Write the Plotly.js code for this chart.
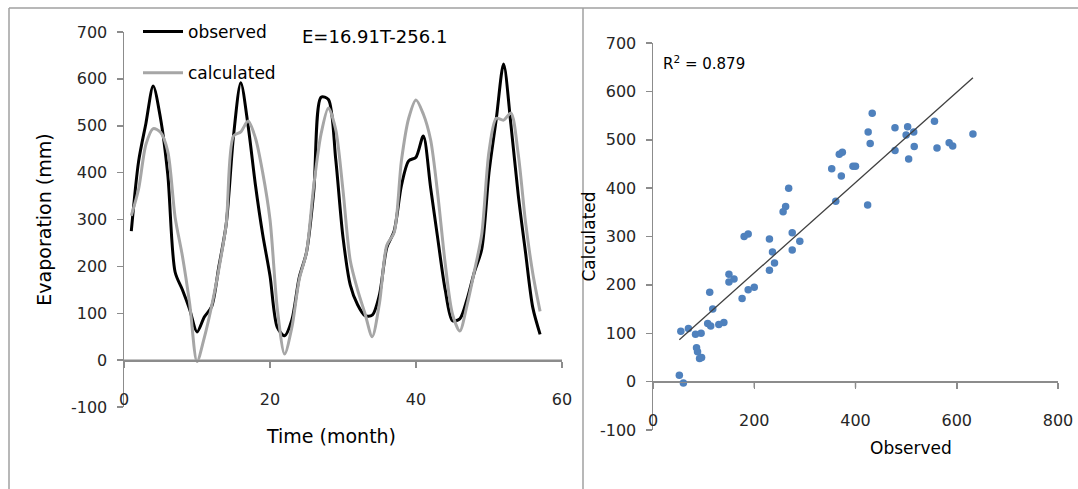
<!DOCTYPE html>
<html>
<head>
<meta charset="utf-8">
<script src="https://cdn.plot.ly/plotly-3.0.1.min.js"></script>
<style>
html,body{margin:0;padding:0;background:#ffffff;}
#chart{width:1078px;height:489px;}
</style>
</head>
<body>
<div id="chart"></div>
<script>
// ---- data ----
const months = [1,2,3,4,5,6,7,8,9,10,11,12,13,14,15,16,17,18,19,20,21,22,23,24,25,26,27,28,29,30,
  31,32,33,34,35,36,37,38,39,40,41,42,43,44,45,46,47,48,49,50,51,52,53,54,55,56,57];
const observed = [275,424,505,585,516,395,188,150,108,60,92,114,200,290,478,592,500,374,268,180,
  70,52,86,176,230,361,561,556,429,262,160,118,95,96,140,240,275,372,425,433,
  478,368,257,150,84,88,130,188,236,400,515,632,503,353,230,112,55];
const calculated = [308,365,460,494,486,445,305,222,120,-3,48,115,195,290,478,487,510,474,400,300,
  110,13,70,172,230,373,483,538,492,362,212,150,100,50,122,245,272,425,516,555,
  525,470,351,206,98,62,118,190,268,445,516,512,527,440,295,185,104];

const leftXTicks = [0,20,40,60];
const leftYTicks = [-100,0,100,200,300,400,500,600,700];
const rightXTicks = [0,200,400,600,800];
const rightYTicks = [-100,0,100,200,300,400,500,600,700];
const leftXRange = [0,60];
const leftYRange = [-100,700];
const rightXRange = [0,800];
const rightYRange = [-100,700];

const equationText = 'E=16.91T-256.1';
const r2Text = 'R<sup>2</sup> = 0.879';

// ---- linear trendline through the scatter (least squares) ----
const n = observed.length;
let sx=0, sy=0, sxx=0, sxy=0;
for (let i=0;i<n;i++){ sx+=observed[i]; sy+=calculated[i]; sxx+=observed[i]*observed[i]; sxy+=observed[i]*calculated[i]; }
const slope = (n*sxy - sx*sy)/(n*sxx - sx*sx);
const intercept = (sy - slope*sx)/n;
const trendX = [Math.min(...observed), Math.max(...observed)];
const trendY = trendX.map(v => slope*v + intercept);

// ---- layout geometry ----
const W = 1078, H = 489;
const leftXDom = [124/W, 562/W];
const leftYDom = [(H-407)/H, (H-32)/H];
const rightXDom = [653/W, 1058/W];
const rightYDom = [(H-430)/H, (H-43)/H];
function zeroPos(dom, range){ return dom[0] + (dom[1]-dom[0])*(0-range[0])/(range[1]-range[0]); }
const lbl = v => String(v); // plain hyphen-minus like the reference
const leftZero = zeroPos(leftYDom, leftYRange);
const rightZero = zeroPos(rightYDom, rightYRange);

const FONT = 'DejaVu Sans, Liberation Sans, sans-serif';
const TICKCOL = '#262626';
const AXCOL = '#8c8c8c';
const TICKLEN = 6;

const traces = [
  {x: months, y: observed, type:'scatter', mode:'lines', name:'observed',
   line:{color:'#000000', width:3, shape:'spline', smoothing:0.8},
   xaxis:'x', yaxis:'y', legendgroup:'g1'},
  {x: months, y: calculated, type:'scatter', mode:'lines', name:'calculated',
   line:{color:'#a6a6a6', width:3, shape:'spline', smoothing:0.8},
   xaxis:'x', yaxis:'y', legendgroup:'g2'},
  {x: observed, y: calculated, type:'scatter', mode:'markers', name:'scatter',
   marker:{color:'#4f81bd', size:7.5}, xaxis:'x2', yaxis:'y2', showlegend:false},
  {x: trendX, y: trendY, type:'scatter', mode:'lines', name:'trend',
   line:{color:'#404040', width:1.3}, xaxis:'x2', yaxis:'y2', showlegend:false}
];

const commonAx = {
  showgrid:false, zeroline:false, showline:true, linecolor:AXCOL, linewidth:1.5,
  ticks:'outside', ticklen:TICKLEN, tickwidth:1.5, tickcolor:AXCOL,
  tickfont:{family:FONT, size:16, color:TICKCOL}, fixedrange:true
};

// the horizontal axes cross the value axes at zero, with tick marks below
const axisShapes = [];
function crossAxis(xref, dom, zero, ticks){
  axisShapes.push({type:'line', xref:'paper', yref:'paper', x0:dom[0], x1:dom[1], y0:zero, y1:zero,
    line:{color:AXCOL, width:1.5}, layer:'below'});
  ticks.forEach(v => axisShapes.push({type:'line', xref:xref, yref:'paper', x0:v, x1:v,
    y0:zero, y1:zero - TICKLEN/H, line:{color:AXCOL, width:1.5}, layer:'below'}));
}
crossAxis('x', leftXDom, leftZero, leftXTicks);
crossAxis('x2', rightXDom, rightZero, rightXTicks);

const borderShapes = [
  {type:'line', xref:'paper', yref:'paper', x0:9/W, x1:1, y0:(H-8)/H, y1:(H-8)/H, line:{color:'#a0a0a0', width:1.5}},
  {type:'line', xref:'paper', yref:'paper', x0:9/W, x1:9/W, y0:0, y1:(H-8)/H, line:{color:'#a0a0a0', width:1.5}},
  {type:'line', xref:'paper', yref:'paper', x0:583/W, x1:583/W, y0:0, y1:(H-8)/H, line:{color:'#a0a0a0', width:1.5}}
];

const layout = {
  width:W, height:H, margin:{l:0,r:0,t:0,b:0},
  paper_bgcolor:'#ffffff', plot_bgcolor:'rgba(0,0,0,0)',
  font:{family:FONT, color:'#000000'},
  showlegend:true,
  legend:{x:138/W, y:(H-14)/H, xanchor:'left', yanchor:'top',
    font:{family:FONT, size:17, color:'#000000'}, bgcolor:'rgba(0,0,0,0)',
    traceorder:'grouped', tracegroupgap:16, itemwidth:40},
  xaxis: Object.assign({}, commonAx, {
    domain:leftXDom, range:leftXRange, tickvals:leftXTicks, ticktext:leftXTicks.map(lbl),
    anchor:'free', position:leftZero, ticklabelstandoff:18
  }),
  yaxis: Object.assign({}, commonAx, {
    domain:leftYDom, range:leftYRange, tickvals:leftYTicks, ticktext:leftYTicks.map(lbl),
    anchor:'x', ticklabelstandoff:6,
    title:{text:'Evaporation (mm)', font:{family:FONT, size:19, color:'#000000'}, standoff:14}
  }),
  xaxis2: Object.assign({}, commonAx, {
    domain:rightXDom, range:rightXRange, tickvals:rightXTicks, ticktext:rightXTicks.map(lbl),
    anchor:'free', position:rightZero, ticklabelstandoff:18
  }),
  yaxis2: Object.assign({}, commonAx, {
    domain:rightYDom, range:rightYRange, tickvals:rightYTicks, ticktext:rightYTicks.map(lbl),
    anchor:'x2', ticklabelstandoff:6,
    title:{text:'Calculated', font:{family:FONT, size:17, color:'#000000'}, standoff:0}
  }),
  annotations:[
    {text:'Time (month)', xref:'paper', yref:'paper', x:331/W, y:(H-436)/H, showarrow:false,
     xanchor:'center', yanchor:'middle', font:{family:FONT, size:19, color:'#000000'}},
    {text:'Observed', xref:'paper', yref:'paper', x:911/W, y:(H-448)/H, showarrow:false,
     xanchor:'center', yanchor:'middle', font:{family:FONT, size:17, color:'#000000'}},
    {text:equationText, xref:'paper', yref:'paper', x:300/W, y:(H-37)/H, showarrow:false,
     xanchor:'left', yanchor:'middle', font:{family:FONT, size:18, color:'#000000'}},
    {text:r2Text, xref:'paper', yref:'paper', x:661/W, y:(H-63)/H, showarrow:false,
     xanchor:'left', yanchor:'middle', font:{family:FONT, size:15, color:'#000000'}}
  ],
  shapes: borderShapes.concat(axisShapes)
};

Plotly.newPlot('chart', traces, layout, {staticPlot:true, displayModeBar:false});
</script>
</body>
</html>
